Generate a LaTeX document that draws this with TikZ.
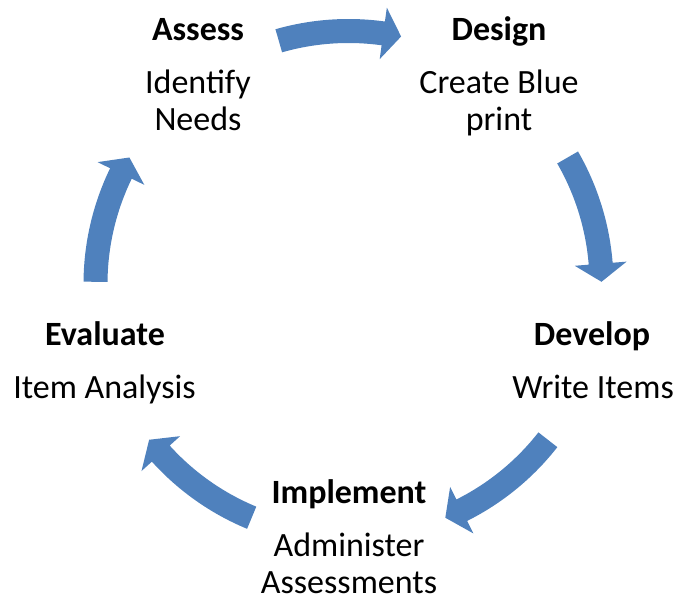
\documentclass[tikz,border=0pt]{standalone}
\usepackage{fontspec}
\setmainfont{Carlito}
\usepackage{tikz}
\definecolor{cycleblue}{RGB}{79,129,189}

\begin{document}
\begin{tikzpicture}[x=1pt, y=1pt,
    stage/.style={font=\fontsize{34}{37}\selectfont\bfseries, anchor=base, inner sep=0pt},
    task/.style={font=\fontsize{34}{37}\selectfont, align=center, anchor=base, inner sep=0pt},
    cyclearrow/.style={fill=cycleblue, draw=none}]
    \useasboundingbox (0,0) rectangle (677,599);

    % Stages (a task's base is its last line)
    \node[stage] (assess) at (198,558) {Assess};
    \node[task] (needs) at (198,468) {Identify\\Needs};
    \node[stage] (design) at (499,558) {Design};
    \node[task] (blueprint) at (499,468) {Create Blue\\print};
    \node[stage] (develop) at (592,253) {Develop};
    \node[task] (items) at (593,200) {Write Items};
    \node[stage] (implement) at (349,95) {Implement};
    \node[task] (administer) at (349,5) {Administer\\Assessments};
    \node[stage] (evaluate) at (105,253) {Evaluate};
    \node[task] (analysis) at (104.5,200) {Item Analysis};

    % Arrows
    \begin{scope}[shift={(348.5,315)}]
        \foreach \tail/\tip in {106/78, 30/0.5, -38/-67.5, -112.5/-142, 179.5/150} {
            \pgfmathsetmacro{\headat}{\tip+4.1}
            \fill[cyclearrow] (\tail:265) arc[start angle=\tail, end angle=\headat, radius=265]
                -- (\headat:279) -- (\tip:253) -- (\headat:227) -- (\headat:241)
                arc[start angle=\headat, end angle=\tail, radius=241] -- cycle;
        }
    \end{scope}
\end{tikzpicture}
\end{document}
